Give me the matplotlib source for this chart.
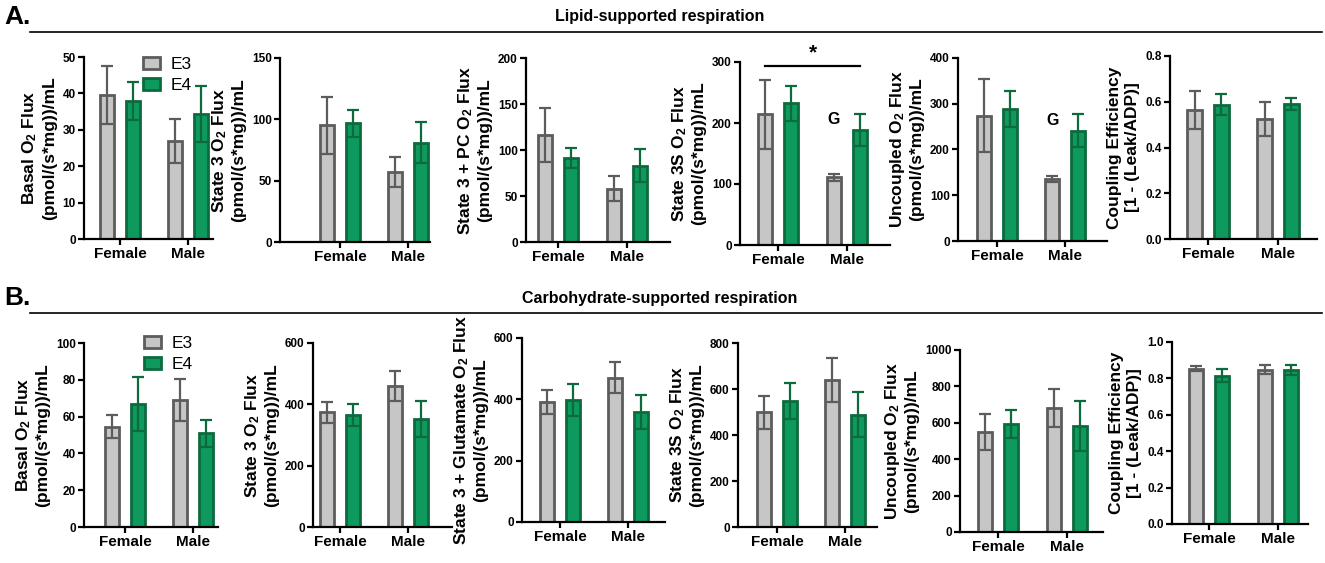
import numpy as np
import matplotlib
matplotlib.use("Agg")
import matplotlib.pyplot as plt
from matplotlib.patches import Patch

plt.rcParams['font.family'] = ['Liberation Sans', 'DejaVu Sans']
plt.rcParams['mathtext.fontset'] = 'custom'
plt.rcParams['mathtext.rm'] = 'Liberation Sans:bold'
plt.rcParams['mathtext.it'] = 'Liberation Sans:bold'
plt.rcParams['mathtext.bf'] = 'Liberation Sans:bold'

groups = ["Female", "Male"]
genotypes = ["E3", "E4"]

# A. lipid-supported respiration  (values: [Female, Male])
lipid_e3 = [[39.5, 27.0], [95, 57], [116, 58], [214, 111], [274, 136], [0.565, 0.525]]
lipid_e3_err = [[8.0, 6.1], [23, 12.5], [29.5, 13.5], [56, 6], [80, 7], [0.083, 0.073]]
lipid_e4 = [[38.0, 34.3], [97, 81], [91, 83], [232, 189], [288, 241], [0.587, 0.59]]
lipid_e4_err = [[5.2, 7.6], [11, 17], [11, 18], [28.5, 26], [39, 36], [0.045, 0.025]]

# B. carbohydrate-supported respiration
carb_e3 = [[54.5, 69.0], [374, 459], [392, 471], [499, 638], [548, 681], [0.853, 0.847]]
carb_e3_err = [[6.2, 11.5], [34, 49], [40, 51], [71.5, 95], [98, 104], [0.015, 0.025]]
carb_e4 = [[66.8, 51.0], [365, 353], [397, 358], [546, 489], [592, 583], [0.815, 0.845]]
carb_e4_err = [[14.5, 7.4], [35.5, 58.5], [52, 56], [78.5, 96], [77.5, 139.5], [0.035, 0.027]]

flux_unit = "(pmol/(s*mg))/mL"
lipid_ylabels = ["Basal O$_2$ Flux", "State 3 O$_2$ Flux", "State 3 + PC O$_2$ Flux",
                 "State 3S O$_2$ Flux", "Uncoupled O$_2$ Flux", "Coupling Efficiency"]
carb_ylabels = ["Basal O$_2$ Flux", "State 3 O$_2$ Flux", "State 3 + Glutamate O$_2$ Flux",
                "State 3S O$_2$ Flux", "Uncoupled O$_2$ Flux", "Coupling Efficiency"]
lipid_ymax = [50, 150, 200, 300, 400, 0.8]
lipid_ystep = [10, 50, 50, 100, 100, 0.2]
carb_ymax = [100, 600, 600, 800, 1000, 1.0]
carb_ystep = [20, 200, 200, 200, 200, 0.2]

# panel geometry in pixels: axis x, female tick, male tick, axis end, top, bottom
lipid_geom = [(84, 120, 188, 213, 57, 239), (280, 340, 408, 430, 58, 242),
              (526, 558, 627, 670, 58, 242), (740, 778, 847, 890, 62, 245),
              (958, 997, 1065, 1107, 58, 241), (1170, 1208, 1278, 1317, 56, 239)]
carb_geom = [(84, 125, 193, 218, 343, 527), (313, 340, 408, 452, 343, 527),
             (522, 560, 628, 665, 338, 522), (738, 777, 845, 877, 343, 527),
             (960, 998, 1067, 1103, 350, 532), (1172, 1209, 1278, 1308, 342, 524)]

W, H = 1325, 563
gray_fill, gray_edge = "#c6c6c6", "#5c5c5c"
green_fill, green_edge = "#0e9a5f", "#0c6a3c"
off, bw = 0.19, 0.21

fig = plt.figure(figsize=(W / 100, H / 100), dpi=100)


def make_panel(geom, e3, e3err, e4, e4err, ylab, ymax, ystep):
    xa, xf, xm, xe, yt, yb = geom
    ax = fig.add_axes([xa / W, 1 - yb / H, (xe - xa) / W, (yb - yt) / H])
    sp = xm - xf
    x = np.arange(2)
    ax.bar(x - off, e3, bw, color=gray_fill, edgecolor=gray_edge, linewidth=2, zorder=2)
    ax.bar(x + off, e4, bw, color=green_fill, edgecolor=green_edge, linewidth=2, zorder=2)
    ax.errorbar(x - off, e3, yerr=e3err, fmt='none', ecolor=gray_edge, elinewidth=1.6,
                capsize=4, capthick=1.6, zorder=3, clip_on=False)
    ax.errorbar(x + off, e4, yerr=e4err, fmt='none', ecolor=green_edge, elinewidth=1.6,
                capsize=4, capthick=1.6, zorder=3, clip_on=False)
    ax.set_xlim(-(xf - xa) / sp, 1 + (xe - xm) / sp)
    ax.set_ylim(0, ymax)
    ax.set_yticks(np.arange(0, ymax + ystep / 2, ystep))
    if ymax <= 1:
        ax.yaxis.set_major_formatter(matplotlib.ticker.FormatStrFormatter('%.1f'))
    ax.set_xticks(x)
    ax.set_xticklabels(groups, fontsize=11, fontweight='bold')
    for lbl in ax.get_yticklabels():
        lbl.set_fontweight('bold')
        lbl.set_fontsize(8.5)
    for s in ['top', 'right']:
        ax.spines[s].set_visible(False)
    for s in ['left', 'bottom']:
        ax.spines[s].set_linewidth(1.6)
    ax.tick_params(axis='both', width=1.6, length=4, pad=2)
    if "Coupling" in ylab:
        second = "[1 - (Leak/ADP)]"
    else:
        second = flux_unit
    ax.set_ylabel(ylab + "\n" + second, fontsize=12.5, fontweight='bold', linespacing=1.2,
                  labelpad=4)
    return ax


lipid_axes = []
for i in range(6):
    lipid_axes.append(make_panel(lipid_geom[i], lipid_e3[i], lipid_e3_err[i],
                                 lipid_e4[i], lipid_e4_err[i], lipid_ylabels[i],
                                 lipid_ymax[i], lipid_ystep[i]))
carb_axes = []
for i in range(6):
    carb_axes.append(make_panel(carb_geom[i], carb_e3[i], carb_e3_err[i],
                                carb_e4[i], carb_e4_err[i], carb_ylabels[i],
                                carb_ymax[i], carb_ystep[i]))

# legends
handles = [Patch(facecolor=gray_fill, edgecolor=gray_edge, linewidth=2, label="E3"),
           Patch(facecolor=green_fill, edgecolor=green_edge, linewidth=2, label="E4")]
for ax, anchor in [(lipid_axes[0], (0.46, 1.0)), (carb_axes[0], (0.45, 1.04))]:
    ax.legend(handles=handles, loc='upper left', bbox_to_anchor=anchor, frameon=False,
              fontsize=12.5, handlelength=0.95, handleheight=0.7, handletextpad=0.6,
              labelspacing=0.35, borderpad=0, borderaxespad=0)

# significance markers
ax4 = lipid_axes[3]
ax4.plot([-off, 1 + off], [294, 294], color='black', linewidth=1.6, clip_on=False)
ax4.text(0.5, 300, "*", ha='center', va='bottom', fontsize=15, fontweight='bold')
ax4.text(1 - off, 205, "G", ha='center', va='center', fontsize=11.5, fontweight='bold')
lipid_axes[4].text(1 - off, 264, "G", ha='center', va='center', fontsize=11.5,
                   fontweight='bold')

# section headers
for ypx, letter, title in [(17, "A.", "Lipid-supported respiration"),
                           (298, "B.", "Carbohydrate-supported respiration")]:
    fig.text(4 / W, 1 - ypx / H, letter, fontsize=19, fontweight='bold', va='center')
    fig.text(660 / W, 1 - ypx / H, title, fontsize=11.5, fontweight='bold', ha='center',
             va='center')
    line_y = 1 - (ypx + 15) / H
    fig.add_artist(plt.Line2D([30 / W, 1322 / W], [line_y, line_y], color='black',
                              linewidth=1.2))

fig.savefig("out.png", dpi=100)
